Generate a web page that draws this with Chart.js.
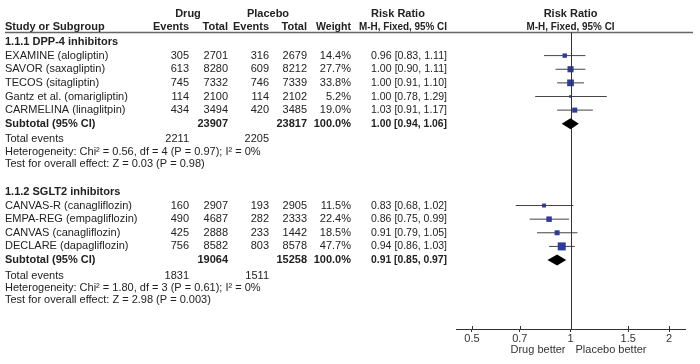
<!DOCTYPE html>
<html><head><meta charset="utf-8">
<script src="https://cdn.jsdelivr.net/npm/chart.js@4/dist/chart.umd.min.js"></script>
<style>html,body{margin:0;padding:0;background:#fff;}canvas{display:block;}</style>
</head><body>
<canvas id="c" width="700" height="364"></canvas>
<script>
// ---- data ----
const groupNames = ['1.1.1 DPP-4 inhibitors', '1.1.2 SGLT2 inhibitors'];
const studies1 = ['EXAMINE (alogliptin)', 'SAVOR (saxagliptin)', 'TECOS (sitagliptin)', 'Gantz et al. (omarigliptin)', 'CARMELINA (linaglitpin)'];
const drugEvents1 = [305, 613, 745, 114, 434];
const drugTotal1 = [2701, 8280, 7332, 2100, 3494];
const placeboEvents1 = [316, 609, 746, 114, 420];
const placeboTotal1 = [2679, 8212, 7339, 2102, 3485];
const weight1 = [14.4, 27.7, 33.8, 5.2, 19.0];
const rr1 = [0.96, 1.00, 1.00, 1.00, 1.03];
const lo1 = [0.83, 0.90, 0.91, 0.78, 0.91];
const hi1 = [1.11, 1.11, 1.10, 1.29, 1.17];
const subtotal1 = {drugTotal: 23907, placeboTotal: 23817, rr: 1.00, lo: 0.94, hi: 1.06, drugEvents: 2211, placeboEvents: 2205,
  het: 'Heterogeneity: Chi\u00b2 = 0.56, df = 4 (P = 0.97); I\u00b2 = 0%', test: 'Test for overall effect: Z = 0.03 (P = 0.98)'};

const studies2 = ['CANVAS-R (canagliflozin)', 'EMPA-REG (empagliflozin)', 'CANVAS (canagliflozin)', 'DECLARE (dapagliflozin)'];
const drugEvents2 = [160, 490, 425, 756];
const drugTotal2 = [2907, 4687, 2888, 8582];
const placeboEvents2 = [193, 282, 233, 803];
const placeboTotal2 = [2905, 2333, 1442, 8578];
const weight2 = [11.5, 22.4, 18.5, 47.7];
const rr2 = [0.83, 0.86, 0.91, 0.94];
const lo2 = [0.68, 0.75, 0.79, 0.86];
const hi2 = [1.02, 0.99, 1.05, 1.03];
const subtotal2 = {drugTotal: 19064, placeboTotal: 15258, rr: 0.91, lo: 0.85, hi: 0.97, drugEvents: 1831, placeboEvents: 1511,
  het: 'Heterogeneity: Chi\u00b2 = 1.80, df = 3 (P = 0.61); I\u00b2 = 0%', test: 'Test for overall effect: Z = 2.98 (P = 0.003)'};

const xTicks = [0.5, 0.7, 1, 1.5, 2];
const xLabelsBottom = ['Drug better', 'Placebo better'];

// ---- layout: row spacing (in row units) ----
const STEP = {study: 1, afterSubtotal: 1.15, summary: 0.9, groupGap: 2.05};

// ---- build rows ----
const groups = [
  {name: groupNames[0], studies: studies1, de: drugEvents1, dt: drugTotal1, pe: placeboEvents1, pt: placeboTotal1, w: weight1, rr: rr1, lo: lo1, hi: hi1, sub: subtotal1},
  {name: groupNames[1], studies: studies2, de: drugEvents2, dt: drugTotal2, pe: placeboEvents2, pt: placeboTotal2, w: weight2, rr: rr2, lo: lo2, hi: hi2, sub: subtotal2}
];
let row = 0;
const textRows = [];
const studyPts = [];
const diamonds = [];
groups.forEach((g, gi) => {
  textRows.push({row: row, cells: [{col: 'study', text: g.name, bold: true}]}); row += STEP.study;
  g.studies.forEach((s, i) => {
    textRows.push({row: row, cells: [
      {col: 'study', text: s}, {col: 'de', text: String(g.de[i])}, {col: 'dt', text: String(g.dt[i])},
      {col: 'pe', text: String(g.pe[i])}, {col: 'pt', text: String(g.pt[i])}, {col: 'w', text: g.w[i].toFixed(1) + '%'},
      {col: 'rr', text: g.rr[i].toFixed(2) + ' [' + g.lo[i].toFixed(2) + ', ' + g.hi[i].toFixed(2) + ']'}]});
    studyPts.push({x: g.rr[i], y: row, w: g.w[i], lo: g.lo[i], hi: g.hi[i]});
    row += STEP.study;
  });
  textRows.push({row: row, cells: [
    {col: 'study', text: 'Subtotal (95% CI)', bold: true}, {col: 'dt', text: String(g.sub.drugTotal), bold: true},
    {col: 'pt', text: String(g.sub.placeboTotal), bold: true}, {col: 'w', text: '100.0%', bold: true},
    {col: 'rr', text: g.sub.rr.toFixed(2) + ' [' + g.sub.lo.toFixed(2) + ', ' + g.sub.hi.toFixed(2) + ']', bold: true}]});
  diamonds.push({x: g.sub.rr, lo: g.sub.lo, hi: g.sub.hi, y: row});
  row += STEP.afterSubtotal;
  textRows.push({row: row, cells: [{col: 'study', text: 'Total events'}, {col: 'de', text: String(g.sub.drugEvents)}, {col: 'pe', text: String(g.sub.placeboEvents)}]}); row += STEP.summary;
  textRows.push({row: row, cells: [{col: 'study', text: g.sub.het}]}); row += STEP.summary;
  textRows.push({row: row, cells: [{col: 'study', text: g.sub.test}]});
  row += STEP.groupGap;
});

// column layout
const cols = {
  study: {x: 5, align: 'left'}, de: {x: 189, align: 'right'}, dt: {x: 228, align: 'right'},
  pe: {x: 269, align: 'right'}, pt: {x: 307, align: 'right'}, w: {x: 351, align: 'right'}, rr: {x: 447, align: 'right'}
};
const FONT = '"Liberation Sans", Arial, sans-serif';
const TXT = '#222';

const tablePlugin = {
  id: 'table',
  afterDraw(chart) {
    const ctx = chart.ctx, ys = chart.scales.y, xs = chart.scales.x, ca = chart.chartArea;
    ctx.save();
    ctx.textBaseline = 'middle';
    ctx.fillStyle = TXT;
    function put(text, x, y, align, bold, maxW) {
      ctx.font = (bold ? 'bold ' : '') + '11px ' + FONT;
      ctx.textAlign = align;
      if (maxW) ctx.fillText(text, x, y, maxW); else ctx.fillText(text, x, y);
    }
    const yh1 = ys.getPixelForValue(-2.05), yh2 = ys.getPixelForValue(-1.07);
    const xOne = xs.getPixelForValue(1);
    put('Drug', 188, yh1, 'center', true);
    put('Placebo', 268, yh1, 'center', true);
    put('Risk Ratio', 398, yh1, 'center', true);
    put('Risk Ratio', xOne, yh1, 'center', true);
    put('Study or Subgroup', 5, yh2, 'left', true);
    put('Events', cols.de.x, yh2, 'right', true);
    put('Total', cols.dt.x, yh2, 'right', true);
    put('Events', cols.pe.x, yh2, 'right', true);
    put('Total', cols.pt.x, yh2, 'right', true);
    put('Weight', cols.w.x, yh2, 'right', true, 35);
    put('M-H, Fixed, 95% CI', cols.rr.x, yh2, 'right', true, 88);
    put('M-H, Fixed, 95% CI', xOne, yh2, 'center', true, 88);
    // header rule
    const yl = Math.round(ys.getPixelForValue(-0.7)) + 0.5;
    ctx.strokeStyle = '#666'; ctx.lineWidth = 1.5;
    ctx.beginPath(); ctx.moveTo(5, yl); ctx.lineTo(693, yl); ctx.stroke();
    // rows
    textRows.forEach(r => {
      const y = ys.getPixelForValue(r.row);
      r.cells.forEach(c => put(c.text, cols[c.col].x, y, cols[c.col].align, c.bold, c.col === 'rr' ? 76 : 0));
    });
    // line of no effect
    const x1 = Math.round(xOne) + 0.5;
    ctx.strokeStyle = '#333'; ctx.lineWidth = 1;
    ctx.beginPath(); ctx.moveTo(x1, yl); ctx.lineTo(x1, ca.bottom); ctx.stroke();
    // tick marks above axis
    xTicks.forEach(v => {
      const px = Math.round(xs.getPixelForValue(v)) + 0.5;
      ctx.beginPath(); ctx.moveTo(px, ca.bottom - 3); ctx.lineTo(px, ca.bottom); ctx.stroke();
    });
    // diamonds
    ctx.fillStyle = '#000';
    diamonds.forEach(d => {
      const y = ys.getPixelForValue(d.y);
      ctx.beginPath();
      ctx.moveTo(xs.getPixelForValue(d.lo), y);
      ctx.lineTo(xs.getPixelForValue(d.x), y - 5.5);
      ctx.lineTo(xs.getPixelForValue(d.hi), y);
      ctx.lineTo(xs.getPixelForValue(d.x), y + 5.5);
      ctx.closePath(); ctx.fill();
    });
    ctx.fillStyle = '#333';
    put(xLabelsBottom[0], xOne - 5, 350, 'right', false);
    put(xLabelsBottom[1], xOne + 5, 350, 'left', false);
    ctx.restore();
  }
};

const datasets = [{
  type: 'scatter', order: 0,
  data: studyPts.map(p => ({x: p.x, y: p.y})),
  pointStyle: 'rect',
  pointRadius: studyPts.map(p => 0.82 * Math.sqrt(p.w)),
  backgroundColor: '#2e3a9c', borderColor: '#2e3a9c', borderWidth: 0
}];
studyPts.forEach(p => datasets.push({
  type: 'line', order: 1,
  data: [{x: p.lo, y: p.y}, {x: p.hi, y: p.y}],
  borderColor: '#444', borderWidth: 1, pointRadius: 0, fill: false
}));

new Chart(document.getElementById('c'), {
  type: 'scatter',
  data: {datasets},
  options: {
    responsive: false, animation: false, devicePixelRatio: 1,
    layout: {autoPadding: false, padding: {left: 456, right: 15, top: 0, bottom: 0}},
    plugins: {legend: {display: false}, tooltip: {enabled: false}},
    scales: {
      x: {
        type: 'logarithmic', min: 0.447, max: 2.236, position: 'bottom',
        afterBuildTicks(s) { s.ticks = xTicks.map(v => ({value: v})); },
        afterFit(s) { s.height = 35; },
        ticks: {callback: v => String(v), color: '#333', font: {size: 11, family: FONT}, padding: 0, maxRotation: 0, autoSkip: false},
        grid: {drawOnChartArea: false, drawTicks: true, tickLength: 3, color: '#333'},
        border: {display: true, color: '#333'}
      },
      y: {type: 'linear', reverse: true, display: false, min: -3.08, max: 21.06}
    }
  },
  plugins: [tablePlugin]
});
</script>
</body></html>
